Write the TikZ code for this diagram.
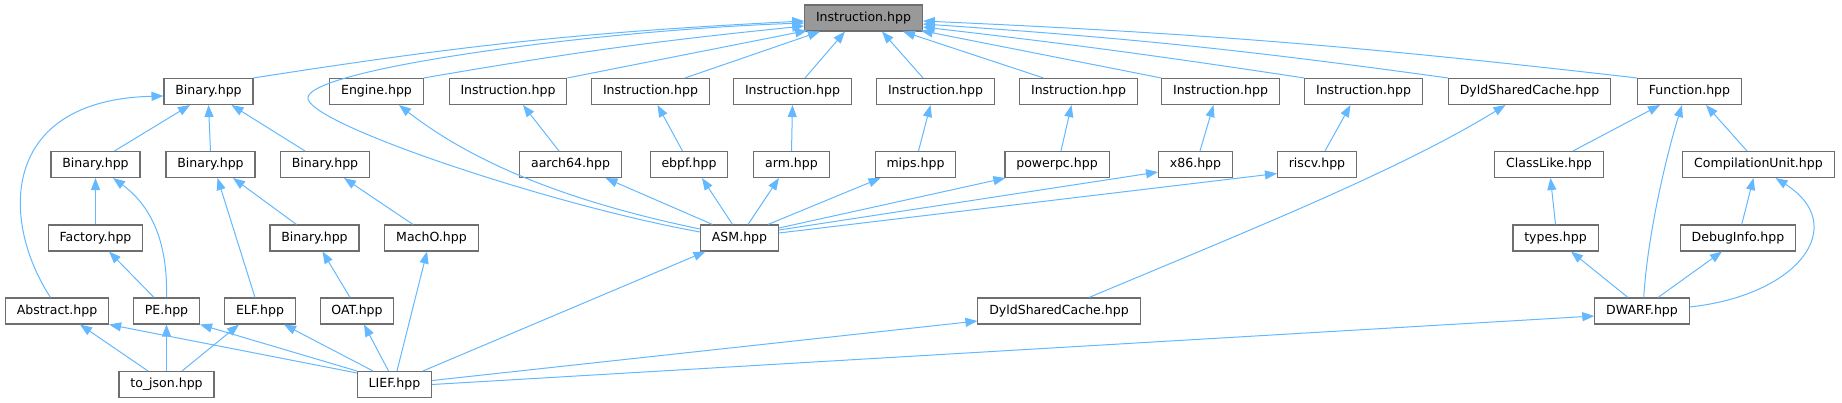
\documentclass[tikz,border=0pt]{standalone}
\usepackage{fontspec}
\setmainfont{DejaVu Sans}
\usetikzlibrary{arrows.meta}
\definecolor{edgeblue}{HTML}{63B8FF}
\definecolor{boxgray}{HTML}{6E6E6E}
\definecolor{rootfill}{HTML}{999999}
\begin{document}
\begin{tikzpicture}[x=0.75pt, y=-0.75pt,
    file/.style={draw=boxgray, line width=0.8pt, fill=white, inner xsep=8.5pt, inner ysep=0pt,
        minimum height=19.5pt, font=\fontsize{9.4}{11}\selectfont},
    root/.style={file, fill=rootfill},
    dep/.style={draw=edgeblue, line width=0.75pt, -{Triangle[length=9pt,width=6.75pt]}}]
    \useasboundingbox (0,0) rectangle (1842,403);

    % row 1
    \node[root] (instr) at (863.5,18) {Instruction.hpp};

    % row 2
    \node[file] (binTop) at (208.5,91.5) {Binary.hpp};
    \node[file] (engine) at (376.5,91.5) {Engine.hpp};
    \node[file] (insA) at (508,91.5) {Instruction.hpp};
    \node[file] (insB) at (650.5,91.5) {Instruction.hpp};
    \node[file] (insC) at (792.5,91.5) {Instruction.hpp};
    \node[file] (insD) at (935.5,91.5) {Instruction.hpp};
    \node[file] (insE) at (1078.5,91.5) {Instruction.hpp};
    \node[file] (insF) at (1220.5,91.5) {Instruction.hpp};
    \node[file] (insG) at (1363.5,91.5) {Instruction.hpp};
    \node[file] (dyldTop) at (1529.5,91.5) {DyldSharedCache.hpp};
    \node[file] (function) at (1689.5,91.5) {Function.hpp};

    % row 3
    \node[file] (binA) at (95.5,164.5) {Binary.hpp};
    \node[file] (binB) at (210.5,164.5) {Binary.hpp};
    \node[file] (binC) at (325,164.5) {Binary.hpp};
    \node[file] (aarch) at (570.5,164.5) {aarch64.hpp};
    \node[file] (ebpf) at (689,164.5) {ebpf.hpp};
    \node[file] (arm) at (791.5,164.5) {arm.hpp};
    \node[file] (mips) at (915.5,164.5) {mips.hpp};
    \node[file] (ppc) at (1057,164.5) {powerpc.hpp};
    \node[file] (xsix) at (1195.5,164.5) {x86.hpp};
    \node[file] (riscv) at (1317,164.5) {riscv.hpp};
    \node[file] (classlike) at (1549,164.5) {ClassLike.hpp};
    \node[file] (compunit) at (1758.5,164.5) {CompilationUnit.hpp};

    % row 4
    \node[file] (factory) at (95.5,238) {Factory.hpp};
    \node[file] (binD) at (314.5,238) {Binary.hpp};
    \node[file] (macho) at (431.5,238) {MachO.hpp};
    \node[file] (asm) at (739.5,238) {ASM.hpp};
    \node[file] (types) at (1555.5,238) {types.hpp};
    \node[file] (debuginfo) at (1738,238) {DebugInfo.hpp};

    % row 5
    \node[file] (abstract) at (57,311) {Abstract.hpp};
    \node[file] (pe) at (166.5,311) {PE.hpp};
    \node[file] (elf) at (260,311) {ELF.hpp};
    \node[file] (oat) at (357,311) {OAT.hpp};
    \node[file] (dyldBot) at (1059,311) {DyldSharedCache.hpp};
    \node[file] (dwarf) at (1642,311) {DWARF.hpp};

    % row 6
    \node[file] (tojson) at (166.5,384.5) {to\_json.hpp};
    \node[file] (lief) at (394.5,384.5) {LIEF.hpp};

    % into Instruction.hpp
    \draw[dep] (binTop.north east) to[bend left=3] ([shift={(0,3)}]instr.west);
    \draw[dep] ([shift={(0,-6)}]asm.west) .. controls (550,205) and (302,122) .. (308,97)
        .. controls (315,68) and (600,30) .. ([shift={(0,5)}]instr.west);
    \draw[dep] (engine.north east) to[bend left=2] ([shift={(0,8)}]instr.west);
    \draw[dep] (insA.north east) -- ([shift={(3,-1)}]instr.south west);
    \draw[dep] ([shift={(34.5,0)}]insB.north) -- ([shift={(-43.5,0)}]instr.south);
    \draw[dep] ([shift={(12.5,0)}]insC.north) -- ([shift={(-18.5,0)}]instr.south);
    \draw[dep] ([shift={(-12.5,0)}]insD.north) -- ([shift={(18.5,0)}]instr.south);
    \draw[dep] ([shift={(-35,0)}]insE.north) -- ([shift={(39.5,0)}]instr.south);
    \draw[dep] (insF.north west) -- ([shift={(-2,-1)}]instr.south east);
    \draw[dep] (insG.north west) to[bend right=1] ([shift={(0,9)}]instr.east);
    \draw[dep] (dyldTop.north west) to[bend right=2] ([shift={(0,6)}]instr.east);
    \draw[dep] (function.north west) to[bend right=2] ([shift={(0,3)}]instr.east);

    % Binary.hpp family
    \draw[dep] ([shift={(19,0)}]binA.north) -- ([shift={(-18.5,0)}]binTop.south);
    \draw[dep] (binB.north) -- (binTop.south);
    \draw[dep] ([shift={(-20,0)}]binC.north) -- ([shift={(23,0)}]binTop.south);
    \draw[dep] ([shift={(-6.5,0)}]abstract.north) .. controls (0,220) and (0,100) .. ([shift={(0,4.5)}]binTop.west);
    \draw[dep] (factory.north) -- (binA.south);
    \draw[dep] (pe.north) .. controls (168,240) and (150,205) .. ([shift={(17.5,0)}]binA.south);
    \draw[dep] ([shift={(-5,0)}]elf.north) -- ([shift={(7,0)}]binB.south);
    \draw[dep] ([shift={(-18,0)}]binD.north) -- ([shift={(22.5,0)}]binB.south);
    \draw[dep] ([shift={(-18.5,0)}]macho.north) -- ([shift={(19,0)}]binC.south);
    \draw[dep] ([shift={(-12.5,0)}]pe.north) -- ([shift={(13.5,0)}]factory.south);
    \draw[dep] ([shift={(-7,0)}]oat.north) -- ([shift={(8,0)}]binD.south);

    % architectures
    \draw[dep] ([shift={(-11.5,0)}]aarch.north) -- ([shift={(15,0)}]insA.south);
    \draw[dep] ([shift={(-6.5,0)}]ebpf.north) -- ([shift={(7,0)}]insB.south);
    \draw[dep] (arm.north) -- (insC.south);
    \draw[dep] ([shift={(3,0)}]mips.north) -- ([shift={(-5,0)}]insD.south);
    \draw[dep] ([shift={(4,0)}]ppc.north) -- ([shift={(-7,0)}]insE.south);
    \draw[dep] ([shift={(4.5,0)}]xsix.north) -- ([shift={(-7,0)}]insF.south);
    \draw[dep] ([shift={(8,0)}]riscv.north) -- ([shift={(-13,0)}]insG.south);

    % ASM.hpp
    \draw[dep] ([shift={(0,-9)}]asm.west) .. controls (560,200) and (470,160) .. ([shift={(22.5,0)}]engine.south);
    \draw[dep] ([shift={(-27,0)}]asm.north) -- ([shift={(35,0)}]aarch.south);
    \draw[dep] ([shift={(-7,0)}]asm.north) -- ([shift={(13,0)}]ebpf.south);
    \draw[dep] ([shift={(8.5,0)}]asm.north) -- ([shift={(-12.5,0)}]arm.south);
    \draw[dep] ([shift={(28.5,0)}]asm.north) -- ([shift={(-35,0)}]mips.south);
    \draw[dep] ([shift={(0,-10)}]asm.east) -- ([shift={(1,0)}]ppc.south west);
    \draw[dep] ([shift={(0,-8)}]asm.east) -- ([shift={(0,7.5)}]xsix.west);
    \draw[dep] ([shift={(0,-5)}]asm.east) -- ([shift={(0,9)}]riscv.west);

    % DWARF side
    \draw[dep] ([shift={(30,0)}]dyldBot.north) .. controls (1250,230) and (1400,170) .. ([shift={(-24,0)}]dyldTop.south);
    \draw[dep] ([shift={(24,0)}]classlike.north) -- ([shift={(-29.5,0)}]function.south);
    \draw[dep] ([shift={(-11.5,0)}]compunit.north) -- ([shift={(16.5,0)}]function.south);
    \draw[dep] ([shift={(1.7,0)}]dwarf.north) .. controls (1648,230) and (1668,150) .. ([shift={(-7.5,0)}]function.south);
    \draw[dep] (types.north) -- ([shift={(1.5,0)}]classlike.south);
    \draw[dep] ([shift={(3.7,0)}]debuginfo.north) -- ([shift={(-5,0)}]compunit.south);
    \draw[dep] ([shift={(-14,0)}]dwarf.north) -- ([shift={(15.5,0)}]types.south);
    \draw[dep] ([shift={(16,0)}]dwarf.north) -- ([shift={(-16,0)}]debuginfo.south);
    \draw[dep] ([shift={(0,-4)}]dwarf.east) .. controls (1800,295) and (1850,225) .. ([shift={(17,0)}]compunit.south);

    % bottom
    \draw[dep] ([shift={(-18.5,0)}]tojson.north) -- ([shift={(23,0)}]abstract.south);
    \draw[dep] (tojson.north) -- (pe.south);
    \draw[dep] ([shift={(15.5,0)}]tojson.north) -- ([shift={(-21,0)}]elf.south);
    \draw[dep] ([shift={(0,2)}]lief.north west) -- (abstract.south east);
    \draw[dep] (lief.north west) -- (pe.south east);
    \draw[dep] ([shift={(-21.5,0)}]lief.north) -- ([shift={(24,0)}]elf.south);
    \draw[dep] ([shift={(-6,0)}]lief.north) -- ([shift={(7,0)}]oat.south);
    \draw[dep] ([shift={(2.5,0)}]lief.north) -- ([shift={(-4.5,0)}]macho.south);
    \draw[dep] ([shift={(28.5,0)}]lief.north) -- ([shift={(-34,0)}]asm.south);
    \draw[dep] ([shift={(0,-4)}]lief.east) -- ([shift={(0,10)}]dyldBot.west);
    \draw[dep] (lief.east) -- ([shift={(0,5)}]dwarf.west);
\end{tikzpicture}
\end{document}
